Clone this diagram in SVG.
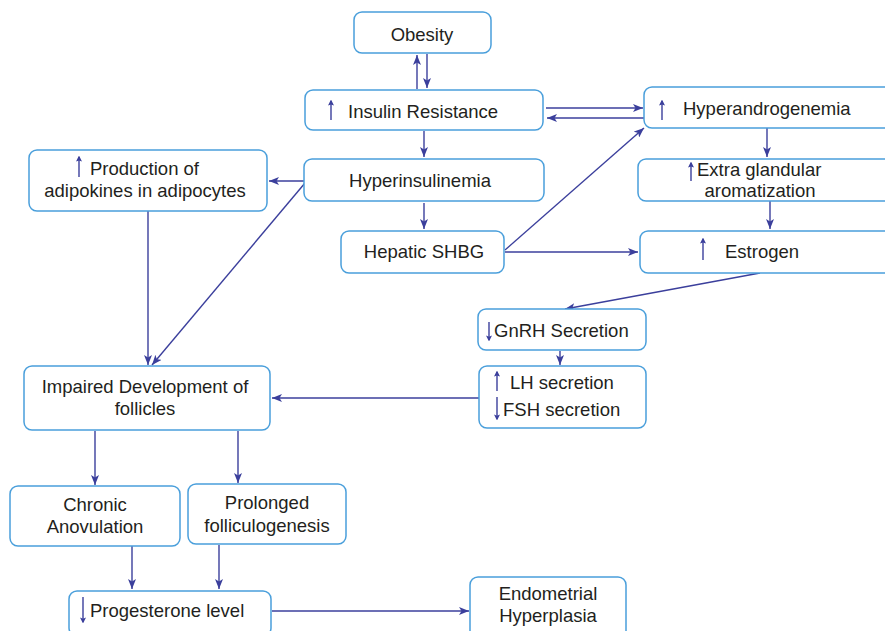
<svg xmlns="http://www.w3.org/2000/svg" width="885" height="631" viewBox="0 0 885 631">
<style>
.box{fill:#fff;stroke:#4a9fdb;stroke-width:1.5}
.t{font-family:"Liberation Sans",Arial,sans-serif;font-size:18.5px;fill:#231f20}
.c{text-anchor:middle}
.ln{stroke:#3b3f9c;stroke-width:1.4;fill:none}
.sm{stroke:#3b3f9c;stroke-width:1.4;fill:none}
</style>
<defs>
<marker id="ah" viewBox="0 0 10 8" refX="10" refY="4" markerWidth="10" markerHeight="8" markerUnits="userSpaceOnUse" orient="auto">
<path d="M0,0 L10,4 L0,8 L2.5,4 Z" fill="#3b3f9c"/>
</marker>
<marker id="sh" viewBox="0 0 6 8" refX="6" refY="4" markerWidth="6" markerHeight="6" markerUnits="userSpaceOnUse" orient="auto">
<path d="M0,0 L8,4 L0,8 L1.5,4 Z" fill="#3b3f9c"/>
</marker>
</defs>
<rect width="885" height="631" fill="#fff"/>
<g id="connectors">
<line class="ln" x1="417" y1="89" x2="417" y2="55" marker-end="url(#ah)"/>
<line class="ln" x1="427" y1="54" x2="427" y2="88" marker-end="url(#ah)"/>
<line class="ln" x1="546" y1="108" x2="643" y2="108" marker-end="url(#ah)"/>
<line class="ln" x1="644" y1="118" x2="547" y2="118" marker-end="url(#ah)"/>
<line class="ln" x1="424" y1="131" x2="424" y2="157" marker-end="url(#ah)"/>
<line class="ln" x1="304" y1="181" x2="269" y2="181" marker-end="url(#ah)"/>
<line class="ln" x1="424" y1="203" x2="424" y2="229" marker-end="url(#ah)"/>
<line class="ln" x1="505" y1="250" x2="644" y2="128" marker-end="url(#ah)"/>
<line class="ln" x1="505" y1="252" x2="638" y2="252" marker-end="url(#ah)"/>
<line class="ln" x1="767" y1="128" x2="767" y2="157" marker-end="url(#ah)"/>
<line class="ln" x1="770" y1="201" x2="770" y2="229" marker-end="url(#ah)"/>
<line class="ln" x1="760" y1="273" x2="565" y2="309" marker-end="url(#ah)"/>
<line class="ln" x1="560" y1="351" x2="560" y2="365" marker-end="url(#ah)"/>
<line class="ln" x1="479" y1="398" x2="272" y2="398" marker-end="url(#ah)"/>
<line class="ln" x1="148" y1="211" x2="148" y2="365" marker-end="url(#ah)"/>
<line class="ln" x1="305" y1="183" x2="152" y2="365" marker-end="url(#ah)"/>
<line class="ln" x1="95" y1="431" x2="95" y2="485" marker-end="url(#ah)"/>
<line class="ln" x1="238" y1="431" x2="238" y2="483" marker-end="url(#ah)"/>
<line class="ln" x1="132" y1="546" x2="132" y2="589" marker-end="url(#ah)"/>
<line class="ln" x1="219" y1="545" x2="219" y2="589" marker-end="url(#ah)"/>
<line class="ln" x1="272" y1="611" x2="469" y2="611" marker-end="url(#ah)"/>
</g>
<g id="obesity">
<rect class="box" x="354" y="12" width="137" height="41" rx="8"/>
<text class="t c" x="422" y="41">Obesity</text>
</g>
<g id="insulin-resistance">
<rect class="box" x="305" y="90" width="238" height="40" rx="8"/>
<line class="sm" x1="331" y1="120" x2="331" y2="101" marker-end="url(#sh)"/>
<text class="t" x="348" y="118">Insulin Resistance</text>
</g>
<g id="hyperandrogenemia">
<rect class="box" x="644" y="87" width="250" height="41" rx="8"/>
<line class="sm" x1="662" y1="120" x2="662" y2="101" marker-end="url(#sh)"/>
<text class="t" x="683" y="115">Hyperandrogenemia</text>
</g>
<g id="extra-glandular">
<rect class="box" x="638" y="159" width="256" height="42" rx="8"/>
<line class="sm" x1="691" y1="181" x2="691" y2="163" marker-end="url(#sh)"/>
<text class="t" x="697" y="176">Extra glandular</text>
<text class="t c" x="760" y="197">aromatization</text>
</g>
<g id="estrogen">
<rect class="box" x="640" y="231" width="254" height="42" rx="8"/>
<line class="sm" x1="703" y1="260" x2="703" y2="239" marker-end="url(#sh)"/>
<text class="t" x="725" y="258">Estrogen</text>
</g>
<g id="adipokines">
<rect class="box" x="29" y="150" width="238" height="61" rx="8"/>
<line class="sm" x1="79" y1="177" x2="79" y2="157" marker-end="url(#sh)"/>
<text class="t" x="90" y="175">Production of</text>
<text class="t c" x="145" y="197">adipokines in adipocytes</text>
</g>
<g id="hyperinsulinemia">
<rect class="box" x="304" y="159" width="240" height="42" rx="8"/>
<text class="t c" x="420" y="187">Hyperinsulinemia</text>
</g>
<g id="hepatic-shbg">
<rect class="box" x="341" y="231" width="163" height="42" rx="8"/>
<text class="t c" x="424" y="258">Hepatic SHBG</text>
</g>
<g id="gnrh">
<rect class="box" x="478" y="309" width="168" height="41" rx="8"/>
<line class="sm" x1="489" y1="322" x2="489" y2="340" marker-end="url(#sh)"/>
<text class="t" x="494" y="337">GnRH Secretion</text>
</g>
<g id="lh-fsh">
<rect class="box" x="479" y="366" width="167" height="62" rx="8"/>
<line class="sm" x1="497" y1="391" x2="497" y2="372" marker-end="url(#sh)"/>
<text class="t" x="510" y="389">LH secretion</text>
<line class="sm" x1="497" y1="397" x2="497" y2="419" marker-end="url(#sh)"/>
<text class="t" x="503" y="416">FSH secretion</text>
</g>
<g id="impaired">
<rect class="box" x="24" y="366" width="246" height="64" rx="8"/>
<text class="t c" x="145" y="393">Impaired Development of</text>
<text class="t c" x="145" y="415">follicles</text>
</g>
<g id="chronic">
<rect class="box" x="10" y="486" width="170" height="60" rx="8"/>
<text class="t c" x="95" y="511">Chronic</text>
<text class="t c" x="95" y="533">Anovulation</text>
</g>
<g id="prolonged">
<rect class="box" x="188" y="484" width="158" height="60" rx="8"/>
<text class="t c" x="267" y="509">Prolonged</text>
<text class="t c" x="267" y="532">folliculogenesis</text>
</g>
<g id="progesterone">
<rect class="box" x="69" y="591" width="202" height="45" rx="8"/>
<line class="sm" x1="83" y1="597" x2="83" y2="622" marker-end="url(#sh)"/>
<text class="t" x="90" y="617">Progesterone level</text>
</g>
<g id="endometrial">
<rect class="box" x="470" y="577" width="156" height="62" rx="8"/>
<text class="t c" x="548" y="600">Endometrial</text>
<text class="t c" x="548" y="622">Hyperplasia</text>
</g>
</svg>
